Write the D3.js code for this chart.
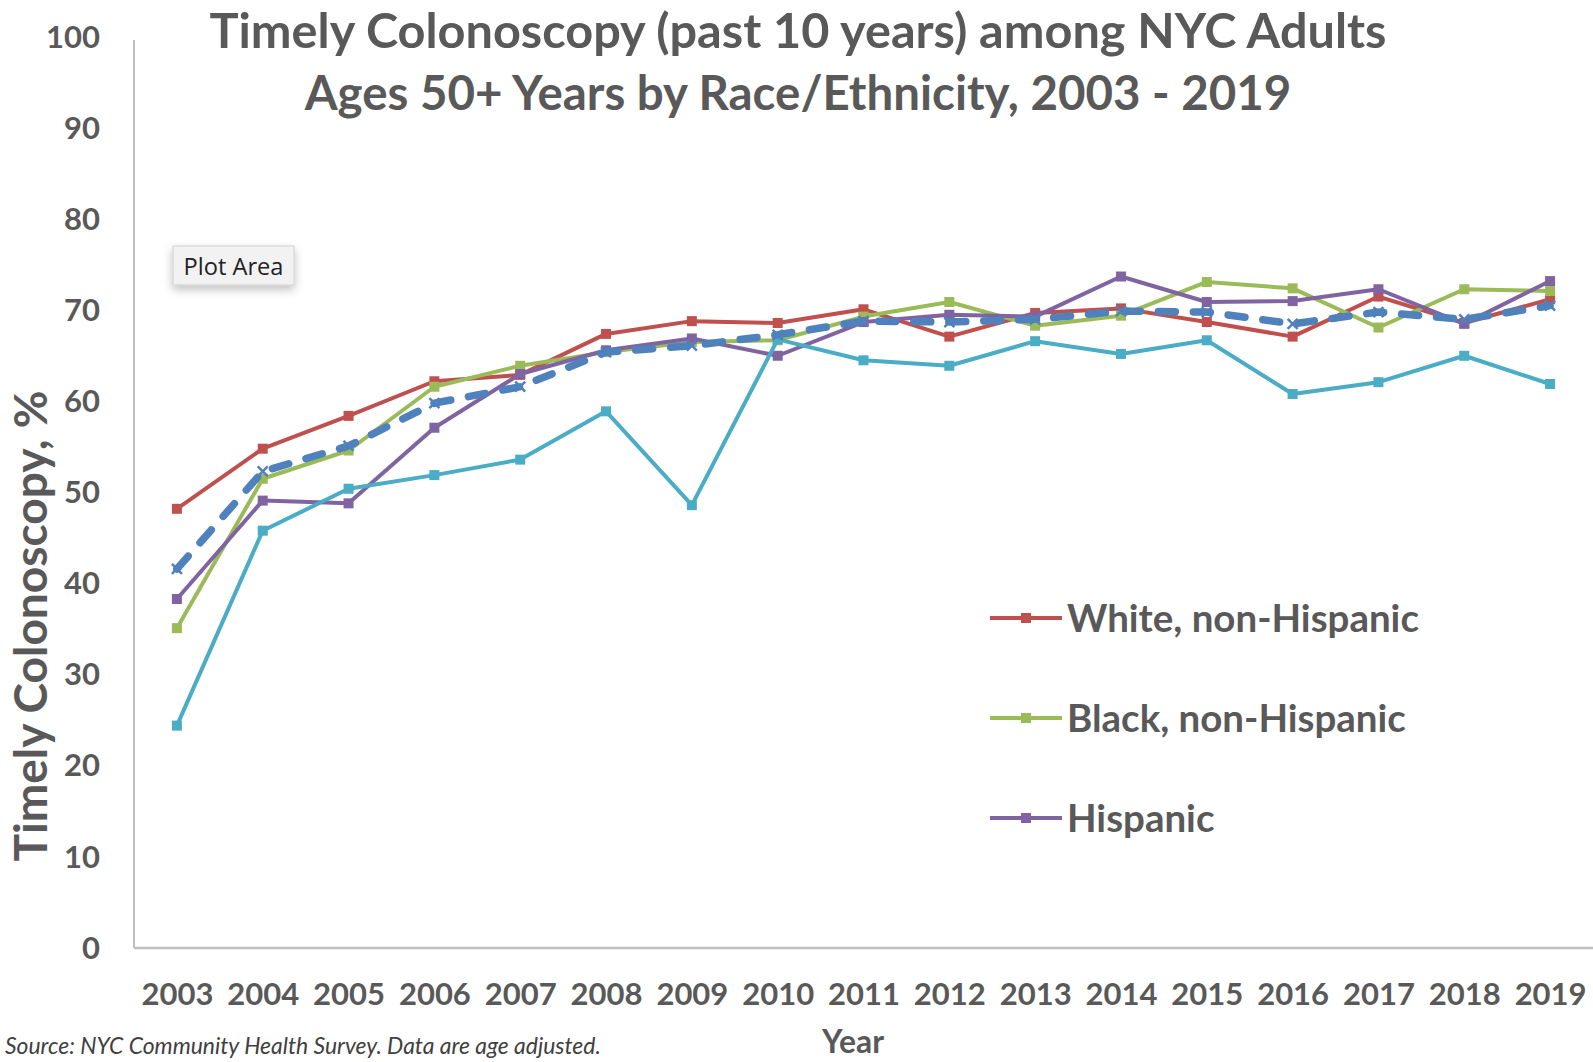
<!DOCTYPE html>
<html>
<head>
<meta charset="utf-8">
<script src="https://cdn.jsdelivr.net/npm/d3@7"></script>
<style>
  html, body { margin: 0; padding: 0; background: #fff; }
  svg { display: block; font-family: Lato, "Open Sans", sans-serif; }
</style>
</head>
<body>
<svg id="chart" width="1593" height="1062"></svg>
<script>
// Survey years (category axis)
const years = ["2003","2004","2005","2006","2007","2008","2009","2010","2011","2012","2013","2014","2015","2016","2017","2018","2019"];
const yTicks = [0, 10, 20, 30, 40, 50, 60, 70, 80, 90, 100];

// Percent of adults 50+ with a colonoscopy in the past 10 years
const white    = [48.1, 54.7, 58.3, 62.1, 62.8, 67.3, 68.7, 68.5, 70.0, 67.0, 69.6, 70.1, 68.6, 67.0, 71.4, 68.5, 71.1];
const black    = [35.0, 51.4, 54.5, 61.5, 63.8, 65.3, 66.4, 66.6, 69.2, 70.8, 68.2, 69.3, 73.0, 72.3, 68.0, 72.2, 72.0];
const hispanic = [38.2, 49.0, 48.7, 57.0, 62.9, 65.5, 66.8, 64.9, 68.6, 69.4, 69.2, 73.6, 70.8, 70.9, 72.2, 68.4, 73.1];
const asianPI  = [24.3, 45.7, 50.3, 51.8, 53.5, 58.8, 48.5, 66.7, 64.4, 63.8, 66.5, 65.1, 66.6, 60.7, 62.0, 64.9, 61.8];
const nycTotal = [41.5, 52.2, 55.0, 59.7, 61.5, 65.3, 66.0, 67.2, 68.7, 68.6, 68.9, 69.8, 69.7, 68.4, 69.7, 68.9, 70.4];

const seriesNames = ["White, non-Hispanic", "Black, non-Hispanic", "Hispanic", "Asian/Pacific Islander", "NYC"];
const legendNames = ["White, non-Hispanic", "Black, non-Hispanic", "Hispanic"];

const titleLines = ["Timely Colonoscopy (past 10 years) among NYC Adults",
                    "Ages 50+ Years by Race/Ethnicity, 2003 - 2019"];

const series = [
  { name: seriesNames[0], values: white,    color: "#C0504D", dashed: false },
  { name: seriesNames[1], values: black,    color: "#9BBB59", dashed: false },
  { name: seriesNames[2], values: hispanic, color: "#8064A2", dashed: false },
  { name: seriesNames[3], values: asianPI,  color: "#4BACC6", dashed: false },
  { name: seriesNames[4], values: nycTotal, color: "#4F81BD", dashed: true }
];

const svg = d3.select("#chart");
const textGray = "#595959";

// Plot area
const plotLeft = 134, plotRight = 1593, plotTop = 36, plotBottom = 947;

const x = d3.scalePoint().domain(years).range([plotLeft, plotRight]).padding(0.5);
const y = d3.scaleLinear().domain([0, 100]).range([plotBottom, plotTop]);

// Scale a text node's font size so it spans the given width
function fitWidth(sel, target) {
  sel.each(function () {
    const len = this.getComputedTextLength();
    const fs = parseFloat(d3.select(this).attr("font-size"));
    if (len > 0) d3.select(this).attr("font-size", (fs * target / len).toFixed(2));
  });
}

// Axis lines
svg.append("line")
  .attr("x1", plotLeft).attr("x2", plotLeft).attr("y1", plotTop + 4).attr("y2", plotBottom + 1)
  .attr("stroke", "#bfbfbf").attr("stroke-width", 2);
svg.append("line")
  .attr("x1", plotLeft).attr("x2", plotRight).attr("y1", plotBottom + 1).attr("y2", plotBottom + 1)
  .attr("stroke", "#bfbfbf").attr("stroke-width", 2.5);

// Y axis tick labels
const yAxis = d3.axisLeft(y).tickValues(yTicks).tickSize(0).tickPadding(0);
const gy = svg.append("g").attr("transform", `translate(100,0)`).call(yAxis);
gy.select(".domain").remove();
gy.selectAll("text")
  .attr("font-size", 31).attr("font-weight", 700).attr("fill", textGray)
  .attr("font-family", "Lato, sans-serif").attr("dy", "0.36em");

// X axis tick labels
const xAxis = d3.axisBottom(x).tickSize(0).tickPadding(0);
const gx = svg.append("g").attr("transform", `translate(0,994)`).call(xAxis);
gx.select(".domain").remove();
gx.selectAll("text")
  .attr("font-size", 31).attr("font-weight", 700).attr("fill", textGray)
  .attr("font-family", "Lato, sans-serif").attr("dy", "0.36em");

// Series lines
const line = d3.line()
  .x((d, i) => x(years[i]))
  .y(d => y(d));

series.forEach(s => {
  const g = svg.append("g");
  g.append("path")
    .datum(s.values)
    .attr("d", line)
    .attr("fill", "none")
    .attr("stroke", s.color)
    .attr("stroke-width", s.dashed ? 7.5 : 4)
    .attr("stroke-linejoin", "round")
    .attr("stroke-linecap", s.dashed ? "round" : "butt")
    .attr("stroke-dasharray", s.dashed ? "17,18" : null);

  const m = 5;
  if (s.dashed) {
    g.selectAll("path.mk")
      .data(s.values)
      .enter().append("path")
      .attr("class", "mk")
      .attr("d", (d, i) => {
        const cx = x(years[i]), cy = y(d);
        return `M${cx - m},${cy - m}L${cx + m},${cy + m}M${cx - m},${cy + m}L${cx + m},${cy - m}`;
      })
      .attr("stroke", s.color).attr("stroke-width", 2.5).attr("fill", "none");
  } else {
    g.selectAll("rect")
      .data(s.values)
      .enter().append("rect")
      .attr("x", (d, i) => x(years[i]) - m)
      .attr("y", d => y(d) - m)
      .attr("width", 2 * m).attr("height", 2 * m)
      .attr("fill", s.color);
  }
});

// Title
const titleY = [48, 110];
const titleW = [1177, 987];
titleLines.forEach((t, i) => {
  svg.append("text")
    .attr("x", 798).attr("y", titleY[i])
    .attr("text-anchor", "middle")
    .attr("font-size", 44).attr("font-weight", 700)
    .attr("fill", textGray)
    .text(t)
    .call(fitWidth, titleW[i]);
});

// Y axis title
svg.append("text")
  .attr("transform", "translate(47,626) rotate(-90)")
  .attr("text-anchor", "middle")
  .attr("font-size", 36).attr("font-weight", 700)
  .attr("fill", textGray)
  .text("Timely Colonoscopy, %")
  .call(fitWidth, 471);

// X axis title
svg.append("text")
  .attr("x", 853).attr("y", 1053)
  .attr("text-anchor", "middle")
  .attr("font-size", 28).attr("font-weight", 700)
  .attr("fill", textGray)
  .text("Year")
  .call(fitWidth, 62);

// Source note
svg.append("text")
  .attr("x", 5).attr("y", 1054)
  .attr("font-size", 19).attr("font-style", "italic")
  .attr("fill", "#404040")
  .text("Source: NYC Community Health Survey. Data are age adjusted.")
  .call(fitWidth, 596);

// Legend
const legendY = [618, 718, 818];
let legendSize = null;
legendNames.forEach((name, i) => {
  const s = series.find(d => d.name === name);
  const g = svg.append("g").attr("transform", `translate(0,${legendY[i]})`);
  g.append("line")
    .attr("x1", 990).attr("x2", 1062).attr("y1", 0).attr("y2", 0)
    .attr("stroke", s.color).attr("stroke-width", 4);
  g.append("rect")
    .attr("x", 1026 - 5).attr("y", -5).attr("width", 10).attr("height", 10)
    .attr("fill", s.color);
  const t = g.append("text")
    .attr("x", 1067).attr("y", 0).attr("dy", "0.36em")
    .attr("font-size", 34).attr("font-weight", 700)
    .attr("fill", textGray)
    .text(name);
  if (legendSize === null) {
    t.call(fitWidth, 352);
    legendSize = t.attr("font-size");
  } else {
    t.attr("font-size", legendSize);
  }
});

// "Plot Area" hover label
const defs = svg.append("defs");
const f = defs.append("filter").attr("id", "shadow")
  .attr("x", "-30%").attr("y", "-40%").attr("width", "160%").attr("height", "200%");
f.append("feDropShadow").attr("dx", 0).attr("dy", 4).attr("stdDeviation", 5)
  .attr("flood-color", "#000").attr("flood-opacity", 0.25);
const tip = svg.append("g");
tip.append("rect")
  .attr("x", 173).attr("y", 246).attr("width", 121).attr("height", 39)
  .attr("fill", "#f2f2f2").attr("stroke", "#cfcfcf").attr("stroke-width", 1)
  .attr("filter", "url(#shadow)");
tip.append("text")
  .attr("x", 233.5).attr("y", 266).attr("dy", "0.36em")
  .attr("text-anchor", "middle")
  .attr("font-family", "'Open Sans', sans-serif")
  .attr("font-size", 19).attr("fill", "#222")
  .text("Plot Area")
  .call(fitWidth, 100);
</script>
</body>
</html>
